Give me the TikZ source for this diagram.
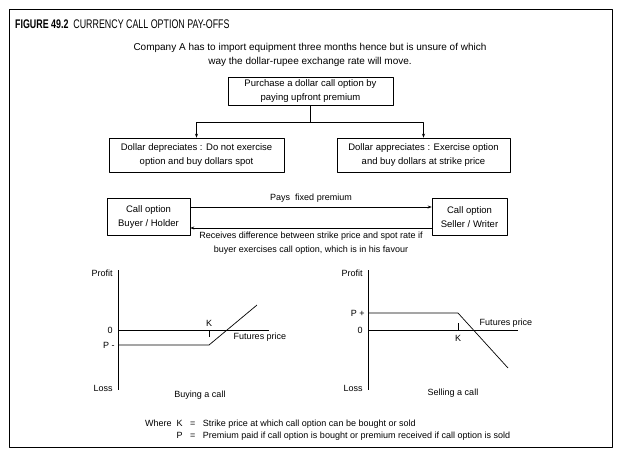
\documentclass[tikz,border=0pt]{standalone}
\usepackage{fontspec}
\setmainfont{Liberation Sans}
\newfontfamily\titlefont[FakeStretch=0.71]{Liberation Sans}
\usetikzlibrary{arrows.meta}
\tikzset{
  txt/.style={font=\fontsize{10}{13.5}\selectfont, align=center, inner sep=0pt},
  box/.style={draw, txt, font=\fontsize{9.5}{13.5}\selectfont, line width=0.6pt},
  lbl/.style={font=\fontsize{9}{11}\selectfont, inner sep=0pt},
}
\begin{document}
\begin{tikzpicture}[x=1pt,y=-1pt,>={Stealth[length=4pt,width=3pt]}, line join=round]
  \useasboundingbox (0,0) rectangle (624,458);
  \draw[line width=1pt] (9,9) rectangle (612,447);
  % heading
  \node[anchor=west, inner sep=0pt, font=\titlefont\fontsize{12.5}{14}\selectfont] (title) at (15,24)
    {\textbf{FIGURE 49.2}\ \ CURRENCY CALL OPTION PAY-OFFS};
  \node[txt] (intro) at (310,55)
    {Company A has to import equipment three months hence but is unsure of which\\
     way the dollar-rupee exchange rate will move.};
  % decision tree
  \node[box, minimum width=165pt, minimum height=28pt] (buy) at (310.5,91)
    {Purchase a dollar call option by\\ paying upfront premium};
  \node[box, minimum width=175pt, minimum height=34pt] (dep) at (196.5,155)
    {Dollar depreciates : Do not exercise\\ option and buy dollars spot};
  \node[box, minimum width=173pt, minimum height=34pt] (app) at (423.5,155)
    {Dollar appreciates : Exercise option\\ and buy dollars at strike price};
  \coordinate (split) at (buy.south |- 0,122);
  \draw[line width=0.6pt] (buy.south) -- (split);
  \draw[->, line width=0.6pt] (split) -| (dep.north);
  \draw[->, line width=0.6pt] (split) -| (app.north);
  % buyer and writer
  \node[box, minimum width=83pt, minimum height=37pt] (holder) at (148.5,217)
    {Call option\\ Buyer / Holder};
  \node[box, minimum width=75pt, minimum height=37pt] (writer) at (469.5,217)
    {Call option\\ Seller / Writer};
  \draw[->, line width=0.6pt] ([yshift=10pt]holder.east) -- ([yshift=10pt]writer.west)
    node[txt, font=\fontsize{9}{13.5}\selectfont, midway, above=4pt] (pays) {Pays\ \ fixed premium};
  \draw[->, line width=0.6pt] ([yshift=-11pt]writer.west) -- ([yshift=-11pt]holder.east)
    node[txt, font=\fontsize{9}{13.5}\selectfont, midway, below=4pt] (gets)
    {Receives difference between strike price and spot rate if\\
     buyer exercises call option, which is in his favour};
  % buying a call
  \begin{scope}[shift={(118,330)}, line width=0.7pt]
    \def\k{91} \def\p{15}
    \draw (0,-60) -- (0,60);
    \draw (0,0) -- (151,0);
    \draw (0,\p) -- (\k,\p) -- (139,-25);
    \draw (\k,0) -- (\k,7);
    \node[lbl, anchor=east] (profitA) at (-5,-57) {Profit};
    \node[lbl, anchor=east] (zeroA) at (-5,0) {0};
    \node[lbl, anchor=east] (premA) at (-3,\p) {P -};
    \node[lbl, anchor=east] (lossA) at (-5,58) {Loss};
    \node[lbl] (kA) at (\k,-7) {K};
    \node[lbl] (futA) at (142,7) {Futures price};
    \node[lbl] (capA) at (82,65) {Buying a call};
  \end{scope}
  % selling a call
  \begin{scope}[shift={(368,330)}, line width=0.7pt]
    \def\k{90} \def\p{17}
    \draw (0,-60) -- (0,60);
    \draw (0,0) -- (150,0);
    \draw (0,-\p) -- (\k,-\p) -- (140,38);
    \draw (\k,0) -- (\k,-7);
    \node[lbl, anchor=east] (profitB) at (-5,-57) {Profit};
    \node[lbl, anchor=east] (premB) at (-3,-\p) {P +};
    \node[lbl, anchor=east] (zeroB) at (-5,0) {0};
    \node[lbl, anchor=east] (lossB) at (-5,58) {Loss};
    \node[lbl] (kB) at (\k,8) {K};
    \node[lbl] (futB) at (138,-7) {Futures price};
    \node[lbl] (capB) at (85,63) {Selling a call};
  \end{scope}
  % key
  \node[anchor=west, inner sep=0pt, font=\fontsize{9}{14}\selectfont] (key) at (145,430)
    {\begin{tabular}{@{}r@{\ \ }c@{\ \ \ }c@{\ \ \ }l@{}}
      Where & K & = & Strike price at which call option can be bought or sold\\[-2pt]
            & P & = & Premium paid if call option is bought or premium received if call option is sold
     \end{tabular}};
\end{tikzpicture}
\end{document}
